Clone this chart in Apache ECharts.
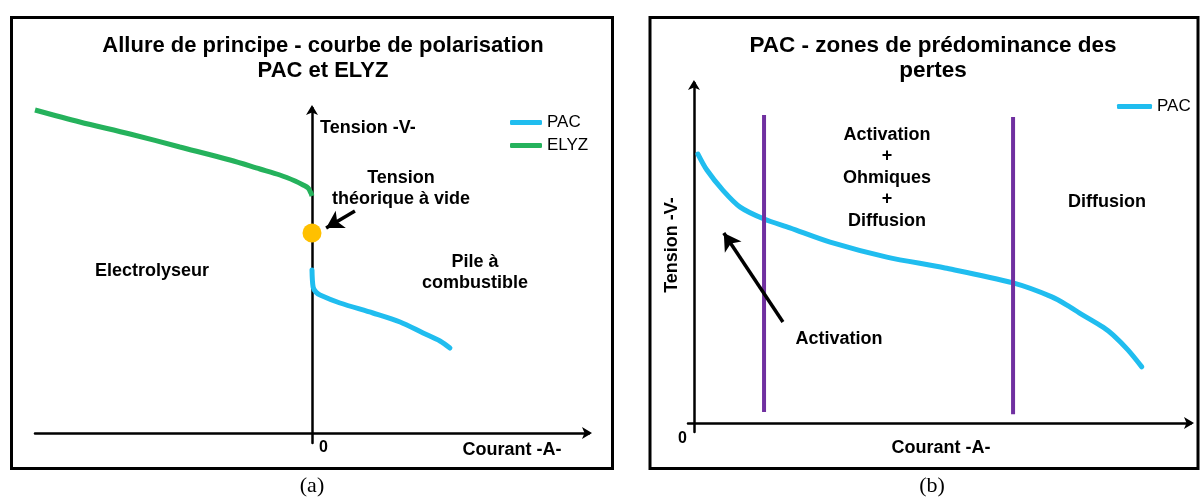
<!DOCTYPE html>
<html><head><meta charset="utf-8">
<script src="https://cdn.jsdelivr.net/npm/echarts@6/dist/echarts.min.js"></script>
<style>html,body{margin:0;padding:0;background:#fff}#c{width:1201px;height:499px}</style>
</head><body><div id="c"></div>
<script>
// ---- Panel (a): PAC et ELYZ (arbitrary schematic units) ----
const elyzCurrent = [-10, -8.38, -6.57, -4.77, -2.96, -1.88, -1.16, -0.61, -0.32, -0.14, -0.04, 0];
const elyzVoltage = [9.69, 9.33, 8.97, 8.58, 8.19, 7.92, 7.74, 7.56, 7.44, 7.35, 7.20, 7.11];
const pacACurrent = [0, 0.04, 0.14, 0.29, 1.01, 2.2, 3.18, 4.01, 4.62, 4.98];
const pacAVoltage = [4.89, 4.38, 4.23, 4.14, 3.90, 3.60, 3.33, 3.00, 2.76, 2.55];
const openCircuitPoint = [0, 6.0];
const arrowA = [[1.55, 6.66], [0.51, 6.15]];

// ---- Panel (b): PAC zones ----
const pacBCurrent = [0.8, 2.6, 5.8, 9.3, 14.1, 19.3, 27.4, 38.8, 50.5, 64.2, 72.0, 75.7, 77.5, 82.3, 84.3, 87.3, 90.1];
const pacBVoltage = [7.91, 7.44, 6.85, 6.35, 6.0, 5.74, 5.32, 4.88, 4.56, 4.12, 3.71, 3.41, 3.24, 2.82, 2.59, 2.15, 1.65];
const zoneLimits = [14.1, 64.2];
const zoneTop = [9.06, 9.0];
const zoneBottom = [0.32, 0.26];
const arrowB = [[17.9, 2.97], [6.0, 5.59]];

const zeroTick = [0];

const FONT = '"Liberation Sans", Arial, sans-serif';
const BLUE = '#20BDEF', GREEN = '#25B25C', PURPLE = '#7030A0', ORANGE = '#FFC000';

function zip(a, b) { return a.map((v, i) => [v, b[i]]); }

const axisLineStyle = { color: '#000', width: 2.5 };
function mkX(grid, min, max, label) {
  return {
    type: 'value', gridIndex: grid, min: min, max: max,
    axisLine: { show: true, onZero: true, symbol: ['none', 'arrow'], symbolSize: [9, 10], symbolOffset: [0, 3], lineStyle: axisLineStyle },
    axisTick: { show: false }, splitLine: { show: false },
    axisLabel: Object.assign({ customValues: zeroTick, formatter: v => String(v), fontSize: 16, fontWeight: 'bold', color: '#000', fontFamily: FONT }, label)
  };
}
function mkY(grid, min, max) {
  return {
    type: 'value', gridIndex: grid, min: min, max: max,
    axisLine: { show: true, onZero: true, symbol: ['none', 'arrow'], symbolSize: [9, 10], symbolOffset: [0, 3], lineStyle: axisLineStyle },
    axisTick: { show: false }, splitLine: { show: false }, axisLabel: { show: false }
  };
}
const arrowMark = (pts) => ({
  silent: true, animation: false, symbol: ['none', 'arrow'], symbolSize: [15, 17],
  lineStyle: { color: '#000', width: 3.5, type: 'solid' }, label: { show: false },
  data: [[{ coord: pts[0] }, { coord: pts[1] }]]
});

function txt(x, y, text, size, weight, opts) {
  return Object.assign({
    type: 'text', x: x, y: y, silent: true,
    style: Object.assign({ text: text, fontSize: size, fontWeight: weight, fontFamily: FONT, fill: '#000', align: 'center', verticalAlign: 'middle' }, opts || {})
  });
}

const chart = echarts.init(document.getElementById('c'), null, { renderer: 'canvas' });
chart.setOption({
  animation: false,
  backgroundColor: '#fff',
  grid: [
    { left: 35, width: 554, top: 108, height: 335 },
    { left: 688, width: 503, top: 83, height: 349 }
  ],
  xAxis: [
    mkX(0, -10, 10, { align: 'left', padding: [0, 0, 0, 7], margin: -3 }),
    mkX(1, -1.2, 100, { align: 'right', padding: [0, 7, 0, 0], margin: -1 })
  ],
  yAxis: [mkY(0, -0.3, 9.75), mkY(1, -0.265, 10)],
  legend: [
    { data: ['PAC', 'ELYZ'], orient: 'vertical', left: 510, top: 114, itemWidth: 32, itemHeight: 5, itemGap: 6, icon: 'roundRect', padding: 0, selectedMode: false, textStyle: { fontSize: 17, fontFamily: FONT, color: '#000' } },
    { data: ['PAC'], orient: 'vertical', left: 1117, top: 98, itemWidth: 35, itemHeight: 5, itemGap: 6, icon: 'roundRect', padding: 0, selectedMode: false, textStyle: { fontSize: 17, fontFamily: FONT, color: '#000' } }
  ],
  series: [
    { name: 'PAC', type: 'line', xAxisIndex: 0, yAxisIndex: 0, data: zip(pacACurrent, pacAVoltage), smooth: 0.3, showSymbol: false, color: BLUE, lineStyle: { color: BLUE, width: 5, cap: 'round' }, itemStyle: { color: BLUE } },
    { name: 'ELYZ', type: 'line', xAxisIndex: 0, yAxisIndex: 0, data: zip(elyzCurrent, elyzVoltage), smooth: 0.3, showSymbol: false, color: GREEN, lineStyle: { color: GREEN, width: 5 }, itemStyle: { color: GREEN } },
    { name: 'Tension théorique à vide', type: 'scatter', xAxisIndex: 0, yAxisIndex: 0, data: [openCircuitPoint], symbolSize: 19, itemStyle: { color: ORANGE, opacity: 1 }, markLine: arrowMark(arrowA), z: 5 },
    { name: 'PAC', type: 'line', xAxisIndex: 1, yAxisIndex: 1, data: zip(pacBCurrent, pacBVoltage), smooth: 0.3, showSymbol: false, color: BLUE, lineStyle: { color: BLUE, width: 5, cap: 'round' }, itemStyle: { color: BLUE }, z: 3 },
    { name: 'Limite 1', type: 'line', xAxisIndex: 1, yAxisIndex: 1, data: [[zoneLimits[0], zoneBottom[0]], [zoneLimits[0], zoneTop[0]]], showSymbol: false, color: PURPLE, lineStyle: { color: PURPLE, width: 4 }, z: 4 },
    { name: 'Limite 2', type: 'line', xAxisIndex: 1, yAxisIndex: 1, data: [[zoneLimits[1], zoneBottom[1]], [zoneLimits[1], zoneTop[1]]], showSymbol: false, color: PURPLE, lineStyle: { color: PURPLE, width: 4 }, markLine: arrowMark(arrowB), z: 4 }
  ],
  graphic: [
    { type: 'rect', silent: true, shape: { x: 11.5, y: 17.5, width: 601, height: 451 }, style: { fill: 'none', stroke: '#000', lineWidth: 3 } },
    { type: 'rect', silent: true, shape: { x: 650, y: 17.5, width: 548, height: 451 }, style: { fill: 'none', stroke: '#000', lineWidth: 3 } },
    txt(323, 58.5, 'Allure de principe - courbe de polarisation\nPAC et ELYZ', 22, 'bold', { lineHeight: 25 }),
    txt(933, 58.5, 'PAC - zones de prédominance des\npertes', 22.5, 'bold', { lineHeight: 25 }),
    txt(320, 128, 'Tension -V-', 18, 'bold', { align: 'left' }),
    txt(401, 188.5, 'Tension\nthéorique à vide', 18, 'bold', { lineHeight: 21 }),
    txt(152, 271, 'Electrolyseur', 18, 'bold'),
    txt(475, 272.5, 'Pile à\ncombustible', 18, 'bold', { lineHeight: 21 }),
    txt(512, 450, 'Courant -A-', 18, 'bold'),
    txt(887, 178, 'Activation\n+\nOhmiques\n+\nDiffusion', 18, 'bold', { lineHeight: 21.5 }),
    txt(1107, 202, 'Diffusion', 18, 'bold'),
    txt(839, 339, 'Activation', 18, 'bold'),
    txt(941, 448, 'Courant -A-', 18, 'bold'),
    { type: 'text', x: 672, y: 245, rotation: Math.PI / 2, silent: true, style: { text: 'Tension -V-', fontSize: 18, fontWeight: 'bold', fontFamily: FONT, fill: '#000', align: 'center', verticalAlign: 'middle' } },
    { type: 'text', x: 312, y: 486, silent: true, style: { text: '(a)', fontSize: 22, fontFamily: '"Liberation Serif", "Times New Roman", serif', fill: '#000', align: 'center', verticalAlign: 'middle' } },
    { type: 'text', x: 932, y: 486, silent: true, style: { text: '(b)', fontSize: 22, fontFamily: '"Liberation Serif", "Times New Roman", serif', fill: '#000', align: 'center', verticalAlign: 'middle' } }
  ]
});
</script></body></html>
